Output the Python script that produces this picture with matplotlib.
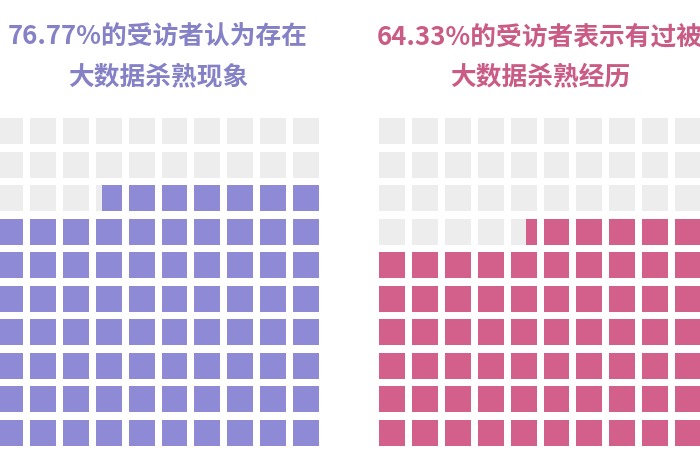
import numpy as np
import matplotlib
matplotlib.use("Agg")
import matplotlib.pyplot as plt
from matplotlib.patches import Rectangle

plt.rcParams['font.family'] = ['Noto Sans CJK SC', 'DejaVu Sans']

# data
# filled cells as drawn in the picture (right grid shows ~65.4 of 100 cells)
filled_cells = [76.77, 65.4]
titles = ["76.77%的受访者认为存在\n大数据杀熟现象",
          "64.33%的受访者表示有过被\n大数据杀熟经历"]
fill_colors = ["#8e8ad6", "#d3608a"]
text_colors = ["#8581c6", "#c95b85"]
empty_color = "#ededed"
n_rows, n_cols = 10, 10

W, H = 700, 470
fig = plt.figure(figsize=(W / 100, H / 100), dpi=100)
fig.patch.set_facecolor("white")

# grid placement in pixels: left edge of first column, top of first row
grid_left = [-3, 379]
grid_top = 118
col_pitch, row_pitch = 32.9, 33.5
cell = 0.79


def px_axes(x0, y0, w, h):
    return fig.add_axes([x0 / W, 1 - (y0 + h) / H, w / W, h / H])


for k, v in enumerate(filled_cells):
    gw = col_pitch * (n_cols - 1 + cell)
    gh = row_pitch * (n_rows - 1 + cell)
    ax = px_axes(grid_left[k], grid_top, gw, gh)
    ax.set_xlim(0, n_cols - 1 + cell)
    ax.set_ylim(n_rows - 1 + cell, 0)
    ax.axis("off")
    empty = n_rows * n_cols - v
    for i in range(n_rows * n_cols):
        r, c = divmod(i, n_cols)
        g = np.clip(empty - i, 0, 1)
        if g > 0:
            ax.add_patch(Rectangle((c, r), cell * g, cell, color=empty_color, lw=0))
        if g < 1:
            ax.add_patch(Rectangle((c + cell * g, r), cell * (1 - g), cell,
                                   color=fill_colors[k], lw=0))

    cx = grid_left[k] + gw / 2
    lines = titles[k].split("\n")
    for line, y in zip(lines, [37, 77]):
        fig.text(cx / W, 1 - y / H, line, ha="center", va="center",
                 fontsize=18.5, fontweight="bold", color=text_colors[k])

fig.savefig("out.png", dpi=100, facecolor="white")
